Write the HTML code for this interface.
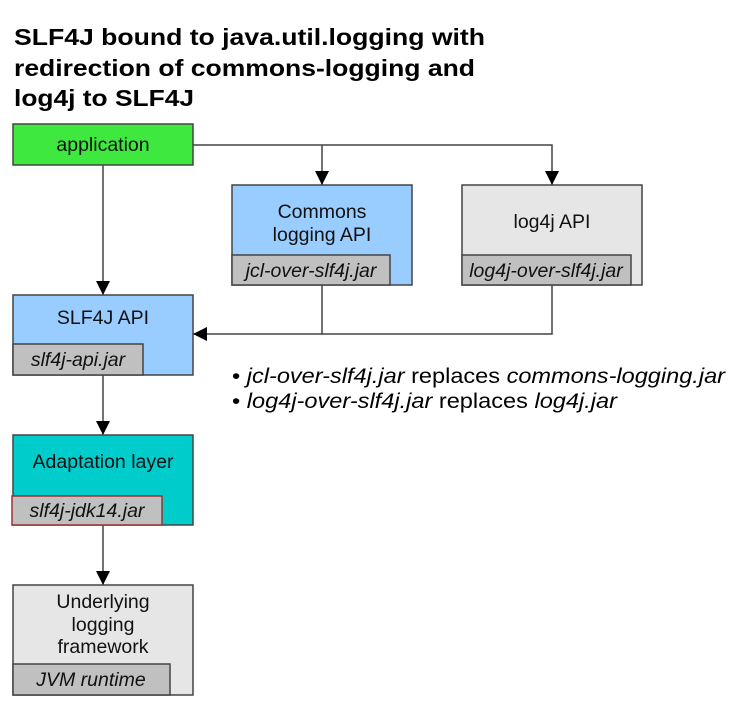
<!DOCTYPE html>
<html><head><meta charset="utf-8"><style>body{margin:0;background:#fff}svg{display:block}</style></head><body>
<svg width="743" height="706" xmlns="http://www.w3.org/2000/svg" font-family="Liberation Sans, sans-serif">
<defs><marker id="a" markerWidth="14" markerHeight="20" refX="14" refY="10" orient="auto" markerUnits="userSpaceOnUse"><path d="M0,3 L14,10 L0,17 z" fill="#000"/></marker></defs>
<g font-weight="bold" font-size="23" fill="#000">
<text x="14" y="45" textLength="471" lengthAdjust="spacingAndGlyphs">SLF4J bound to java.util.logging with</text>
<text x="14" y="76" textLength="461" lengthAdjust="spacingAndGlyphs">redirection of commons-logging and</text>
<text x="14" y="106" textLength="180" lengthAdjust="spacingAndGlyphs">log4j to SLF4J</text>
</g>
<g stroke="#444" stroke-width="1.5" fill="none">
<path d="M193,145 H552 V185" marker-end="url(#a)"/>
<path d="M322,145 V185" marker-end="url(#a)"/>
<path d="M103,165 V295" marker-end="url(#a)"/>
<path d="M322,285 V334 H193" marker-end="url(#a)"/>
<path d="M552,285 V334 H322"/>
<path d="M103,375 V435" marker-end="url(#a)"/>
<path d="M103,525 V585" marker-end="url(#a)"/>
</g>
<g stroke="#444" stroke-width="1.5">
<rect x="13" y="124" width="180" height="41" fill="#3ee83e"/>
<rect x="13" y="295" width="180" height="80" fill="#99ccff"/>
<rect x="13" y="344" width="130" height="31" fill="#c0c0c0"/>
<rect x="232" y="185" width="180" height="100" fill="#99ccff"/>
<rect x="232" y="255" width="158" height="30" fill="#c0c0c0"/>
<rect x="462" y="185" width="180" height="100" fill="#e6e6e6"/>
<rect x="462" y="255" width="169" height="30" fill="#c0c0c0"/>
<rect x="13" y="435" width="180" height="90" fill="#00cccc"/>
<rect x="12" y="496" width="150" height="29" fill="#c0c0c0" stroke="#993333"/>
<rect x="13" y="585" width="180" height="110" fill="#e6e6e6"/>
<rect x="13" y="664" width="157" height="31" fill="#c0c0c0"/>
</g>
<g font-size="19.5" fill="#111" text-anchor="middle">
<text x="103" y="151">application</text>
<text x="103" y="324">SLF4J API</text>
<text x="322" y="218">Commons</text>
<text x="322" y="241">logging API</text>
<text x="552" y="228">log4j API</text>
<text x="103" y="468">Adaptation layer</text>
<text x="103" y="608">Underlying</text>
<text x="103" y="631">logging</text>
<text x="103" y="653">framework</text>
</g>
<g font-size="19.5" fill="#111" font-style="italic" text-anchor="middle">
<text x="78" y="366">slf4j-api.jar</text>
<text x="311" y="277">jcl-over-slf4j.jar</text>
<text x="546" y="277">log4j-over-slf4j.jar</text>
<text x="87" y="517">slf4j-jdk14.jar</text>
<text x="91" y="686">JVM runtime</text>
</g>
<g font-size="21" fill="#000">
<text x="232" y="383" textLength="493" lengthAdjust="spacingAndGlyphs">• <tspan font-style="italic">jcl-over-slf4j.jar</tspan> replaces <tspan font-style="italic">commons-logging.jar</tspan></text>
<text x="232" y="408" textLength="385" lengthAdjust="spacingAndGlyphs">• <tspan font-style="italic">log4j-over-slf4j.jar</tspan> replaces <tspan font-style="italic">log4j.jar</tspan></text>
</g>
</svg>
</body></html>
